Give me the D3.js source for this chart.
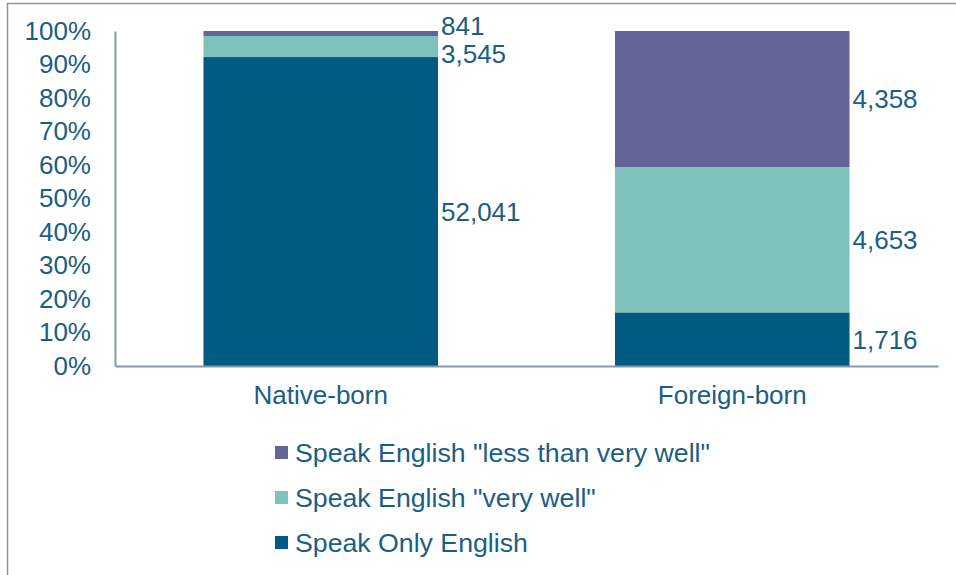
<!DOCTYPE html>
<html>
<head>
<meta charset="utf-8">
<script src="https://cdn.jsdelivr.net/npm/d3@7"></script>
<style>
  body { margin: 0; background: #fff; }
  text { font-family: "Liberation Sans", Arial, sans-serif; }
</style>
</head>
<body>
<div id="chart"></div>
<script>
var groups = ["Native-born", "Foreign-born"];
var seriesNames = ["Speak Only English", "Speak English \"very well\"", "Speak English \"less than very well\""];
var onlyEnglish = [52041, 1716];
var veryWell = [3545, 4653];
var lessThanVeryWell = [841, 4358];
var yTicks = [0, 0.1, 0.2, 0.3, 0.4, 0.5, 0.6, 0.7, 0.8, 0.9, 1];

var colors = ["#005A82", "#7DC3BB", "#646496"];
var textColor = "#1B5E84";
var axisColor = "#8497B0";
var fontSize = "26px";

var w = 956, h = 575;
var margin = { top: 31, right: 18, bottom: 209, left: 115 };

var svg = d3.select("#chart").append("svg")
            .attr("width", w)
            .attr("height", h);

// outer frame (runs off the right and bottom edges)
svg.append("rect")
   .attr("x", 7.5).attr("y", 3.5)
   .attr("width", w + 20).attr("height", h + 20)
   .attr("fill", "none")
   .attr("stroke", axisColor)
   .attr("stroke-width", 1.5);

var g = svg.append("g")
           .attr("transform", "translate(" + margin.left + "," + margin.top + ")");

var iw = w - margin.left - margin.right;
var ih = h - margin.top - margin.bottom;

var table = groups.map(function(name, i) {
    return { group: name, s0: onlyEnglish[i], s1: veryWell[i], s2: lessThanVeryWell[i] };
});

var stack = d3.stack().keys(["s0", "s1", "s2"]).offset(d3.stackOffsetExpand);
var layers = stack(table);

var xScale = d3.scaleBand().domain(groups).range([0, iw]).paddingInner(0.43).paddingOuter(0.215);
var yScale = d3.scaleLinear().domain([0, 1]).range([ih, 0]);

// bars
g.selectAll(".layer")
 .data(layers)
 .enter().append("g")
 .attr("fill", function(d, i) { return colors[i]; })
 .selectAll("rect")
 .data(function(d) { return d; })
 .enter().append("rect")
 .attr("x", function(d) { return xScale(d.data.group); })
 .attr("y", function(d) { return yScale(d[1]); })
 .attr("width", xScale.bandwidth())
 .attr("height", function(d) { return yScale(d[0]) - yScale(d[1]); });

// axes
var yAxis = g.append("g")
   .call(d3.axisLeft(yScale).tickValues(yTicks).tickFormat(d3.format(".0%")).tickSize(0).tickPadding(24));
yAxis.select(".domain").attr("stroke", axisColor).attr("stroke-width", 2);
yAxis.selectAll("text").attr("fill", textColor).style("font-size", fontSize);

var xAxis = g.append("g")
   .attr("transform", "translate(0," + ih + ")")
   .call(d3.axisBottom(xScale).tickSize(0).tickPadding(20));
xAxis.select(".domain").attr("stroke", axisColor).attr("stroke-width", 2);
xAxis.selectAll("text").attr("fill", textColor).style("font-size", fontSize);

// value labels, right of each bar, pushed apart when they crowd
var raw = [onlyEnglish, veryWell, lessThanVeryWell];
groups.forEach(function(name, gi) {
    var labs = layers.map(function(layer, li) {
        var d = layer[gi];
        return { y: yScale((d[0] + d[1]) / 2), v: raw[li][gi] };
    });
    labs.sort(function(a, b) { return a.y - b.y; });
    var gap = 28;
    for (var it = 0; it < 10; it++) {
        for (var k = 0; k < labs.length - 1; k++) {
            var over = gap - (labs[k + 1].y - labs[k].y);
            if (over > 0) { labs[k].y -= over / 2; labs[k + 1].y += over / 2; }
        }
    }
    g.selectAll(".lab" + gi)
     .data(labs)
     .enter().append("text")
     .attr("x", xScale(name) + xScale.bandwidth() + 3)
     .attr("y", function(d) { return d.y; })
     .attr("dy", "0.36em")
     .attr("fill", textColor)
     .style("font-size", fontSize)
     .text(function(d) { return d3.format(",")(d.v); });
});

// legend
var legendOrder = [2, 1, 0];
var legend = svg.append("g").attr("transform", "translate(275,452)");
var rows = legend.selectAll("g")
    .data(legendOrder)
    .enter().append("g")
    .attr("transform", function(d, i) { return "translate(0," + (i * 45) + ")"; });
rows.append("rect")
    .attr("x", 0).attr("y", -6)
    .attr("width", 13).attr("height", 13)
    .attr("fill", function(d) { return colors[d]; });
rows.append("text")
    .attr("x", 20).attr("y", 0)
    .attr("dy", "0.36em")
    .attr("fill", textColor)
    .style("font-size", "26.7px")
    .text(function(d) { return seriesNames[d]; });
</script>
</body>
</html>
